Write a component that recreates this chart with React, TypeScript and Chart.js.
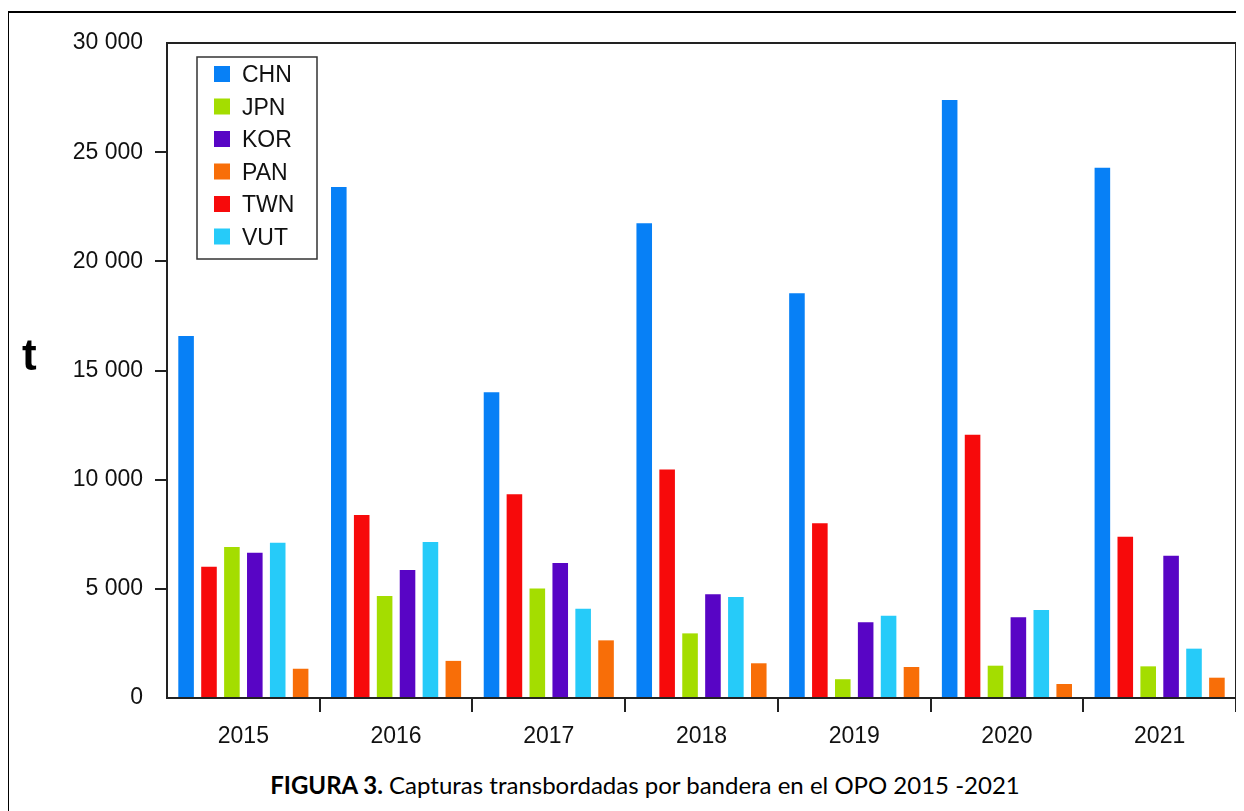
import React, { useEffect, useRef } from "react";
import { Chart, registerables } from "chart.js";

Chart.register(...registerables);

const YEARS = ["2015", "2016", "2017", "2018", "2019", "2020", "2021"];
const CHN = [16580, 23410, 14000, 21740, 18540, 27390, 24290];
const TWN = [6010, 8380, 9330, 10460, 8000, 12060, 7380];
const JPN = [6920, 4670, 5010, 2960, 860, 1480, 1450];
const KOR = [6650, 5860, 6180, 4750, 3470, 3700, 6520];
const VUT = [7110, 7150, 4090, 4630, 3770, 4030, 2260];
const PAN = [1340, 1700, 2640, 1590, 1420, 640, 930];
const Y_TICKS = [0, 5000, 10000, 15000, 20000, 25000, 30000];
const LEGEND_ORDER = ["CHN", "JPN", "KOR", "PAN", "TWN", "VUT"];

const COLORS: Record<string, string> = {
  CHN: "#0780F6",
  TWN: "#F70A0B",
  JPN: "#A4DD00",
  KOR: "#5805C5",
  VUT: "#26CBF9",
  PAN: "#F86E08",
};

const SERIES: [string, number[]][] = [
  ["CHN", CHN],
  ["TWN", TWN],
  ["JPN", JPN],
  ["KOR", KOR],
  ["VUT", VUT],
  ["PAN", PAN],
];

const FONT = "'Liberation Sans', Arial, sans-serif";

const fmt = (v: number) => {
  const s = String(Math.round(v));
  return s.replace(/\B(?=(\d{3})+(?!\d))/g, " ");
};

const boxPlugin = {
  id: "boxAndLegend",
  afterDraw(chart: any) {
    const { ctx, chartArea } = chart;
    ctx.save();
    ctx.strokeStyle = "#222";
    ctx.lineWidth = 2;
    ctx.strokeRect(chartArea.left, chartArea.top, chartArea.right - chartArea.left, chartArea.bottom - chartArea.top);

    // legend inside plot area
    const lx = chartArea.left + 30;
    const ly = chartArea.top + 14;
    const lw = 120;
    const lh = 202;
    ctx.fillStyle = "#fff";
    ctx.fillRect(lx, ly, lw, lh);
    ctx.strokeStyle = "#333";
    ctx.lineWidth = 1.5;
    ctx.strokeRect(lx, ly, lw, lh);
    ctx.font = `23px ${FONT}`;
    ctx.textBaseline = "middle";
    ctx.textAlign = "left";
    LEGEND_ORDER.forEach((name, i) => {
      const ds = chart.data.datasets.find((d: any) => d.label === name);
      if (!ds) return;
      const cy = ly + 17 + i * 32.5;
      ctx.fillStyle = ds.backgroundColor;
      ctx.fillRect(lx + 17, cy - 8, 16, 16);
      ctx.fillStyle = "#111";
      ctx.fillText(name, lx + 45, cy + 2);
    });
    ctx.restore();
  },
};

export default function App() {
  const ref = useRef<HTMLCanvasElement | null>(null);

  useEffect(() => {
    if (!ref.current) return;
    const chart = new Chart(ref.current, {
      type: "bar",
      data: {
        labels: YEARS,
        datasets: SERIES.map(([name, vals]) => ({
          label: name,
          data: vals,
          backgroundColor: COLORS[name],
          borderWidth: 0,
          barPercentage: 0.68,
          categoryPercentage: 0.9,
        })),
      },
      options: {
        animation: false,
        responsive: false,
        maintainAspectRatio: false,
        layout: { padding: { left: 0, right: 8, top: 35, bottom: 0 } },
        plugins: {
          legend: { display: false },
          tooltip: { enabled: false },
          title: { display: false },
        },
        scales: {
          x: {
            grid: {
              display: true,
              drawOnChartArea: false,
              drawTicks: true,
              tickLength: 14,
              lineWidth: 2,
              color: (c: any) => (c.index === 0 || c.index >= YEARS.length ? "rgba(0,0,0,0)" : "#222"),
            },
            border: { display: false },
            ticks: {
              color: "#111",
              font: { family: FONT, size: 23 },
              padding: 11,
              maxRotation: 0,
            },
            afterFit: (s: any) => {
              s.height = 60;
            },
          },
          y: {
            min: 0,
            max: 30000,
            afterBuildTicks: (s: any) => {
              s.ticks = Y_TICKS.map((v) => ({ value: v }));
            },
            grid: {
              display: true,
              drawOnChartArea: false,
              drawTicks: true,
              tickLength: 12,
              lineWidth: 2,
              color: (c: any) =>
                c.tick && (c.tick.value === 0 || c.tick.value === 30000) ? "rgba(0,0,0,0)" : "#222",
            },
            border: { display: false },
            ticks: {
              color: "#111",
              font: { family: FONT, size: 23 },
              padding: 12,
              callback: (v: any) => fmt(Number(v)),
            },
            afterFit: (s: any) => {
              s.width = 159;
            },
          },
        },
      },
      plugins: [boxPlugin],
    });
    return () => chart.destroy();
  }, []);

  return (
    <div style={{ position: "relative", width: 1236, height: 803, background: "#fff" }}>
      <div style={{ position: "absolute", left: -1, top: 3, right: 0, height: 2, background: "#000" }} />
      <div style={{ position: "absolute", left: -1, top: 3, width: 2, bottom: 0, background: "#000" }} />
      <canvas
        ref={ref}
        width={1236}
        height={750}
        style={{ position: "absolute", left: 0, top: 0, width: 1236, height: 750 }}
      />
      <div
        style={{
          position: "absolute",
          left: 14,
          top: 325,
          fontFamily: FONT,
          fontSize: 44,
          fontWeight: "bold",
          lineHeight: 1,
          color: "#000",
        }}
      >
        t
      </div>
      <div
        style={{
          position: "absolute",
          left: 637,
          top: 765,
          transform: "translateX(-50%)",
          whiteSpace: "nowrap",
          fontFamily: "Lato, 'Open Sans', sans-serif",
          fontSize: 24,
          lineHeight: 1,
          color: "#000",
        }}
      >
        <b>FIGURA 3.</b> Capturas transbordadas por bandera en el OPO 2015 -2021
      </div>
    </div>
  );
}
